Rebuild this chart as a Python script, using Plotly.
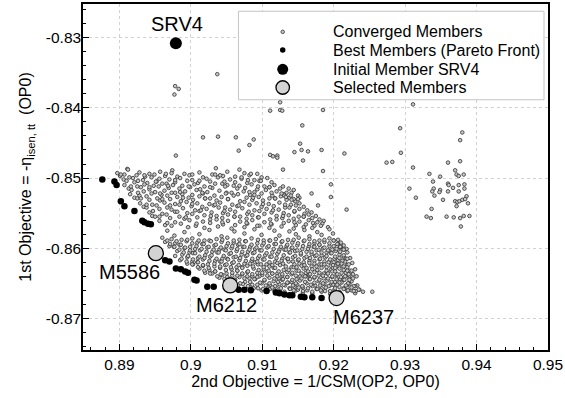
import plotly.graph_objects as go

FONT = "Liberation Sans, Arial, Helvetica, sans-serif"

# ---------------- data ----------------
converged_pts = [
    # upper band
    (0.8911,-0.8487),(0.8974,-0.8489),(0.9035,-0.8486),(0.9068,-0.8488),
    (0.8897,-0.8493),(0.8907,-0.8495),(0.8928,-0.8492),(0.8942,-0.8494),(0.8957,-0.8491),(0.8973,-0.8493),(0.8991,-0.8494),(0.9012,-0.8492),(0.9030,-0.8495),(0.9051,-0.8491),(0.9075,-0.8493),(0.9093,-0.8494),
    (0.8901,-0.8497),(0.8914,-0.8499),(0.8924,-0.8496),(0.8936,-0.8498),(0.8949,-0.8495),(0.8964,-0.8497),(0.8981,-0.8498),(0.8998,-0.8496),(0.9017,-0.8499),(0.9034,-0.8495),(0.9045,-0.8497),(0.9062,-0.8498),(0.9082,-0.8496),(0.9099,-0.8499),
    (0.8906,-0.8502),(0.8919,-0.8500),(0.8933,-0.8503),(0.8945,-0.8499),(0.8956,-0.8501),(0.8970,-0.8502),(0.8985,-0.8500),(0.9002,-0.8503),(0.9022,-0.8501),(0.9038,-0.8499),(0.9055,-0.8502),(0.9071,-0.8501),(0.9089,-0.8503),(0.9107,-0.8500),
    (0.8910,-0.8504),(0.8921,-0.8506),(0.8939,-0.8507),(0.8952,-0.8505),(0.8966,-0.8508),(0.8978,-0.8506),(0.8995,-0.8504),(0.9010,-0.8507),(0.9027,-0.8505),(0.9044,-0.8508),(0.9062,-0.8506),(0.9079,-0.8507),(0.9096,-0.8504),(0.9113,-0.8506),
    (0.8907,-0.8510),(0.8925,-0.8512),(0.8935,-0.8509),(0.8948,-0.8511),(0.8960,-0.8508),(0.8975,-0.8510),(0.8988,-0.8511),(0.9005,-0.8509),(0.9019,-0.8512),(0.9034,-0.8508),(0.9051,-0.8510),(0.9068,-0.8511),(0.9085,-0.8509),(0.9103,-0.8512),(0.9117,-0.8510),
    (0.8913,-0.8515),(0.8930,-0.8513),(0.8942,-0.8516),(0.8955,-0.8512),(0.8969,-0.8514),(0.8984,-0.8515),(0.8999,-0.8513),(0.9013,-0.8516),(0.9030,-0.8514),(0.9048,-0.8512),(0.9065,-0.8515),(0.9076,-0.8514),(0.9093,-0.8516),(0.9110,-0.8513),(0.9125,-0.8515),
    (0.8917,-0.8517),(0.8934,-0.8519),(0.8950,-0.8520),(0.8963,-0.8518),(0.8978,-0.8521),(0.8992,-0.8519),(0.9008,-0.8517),(0.9023,-0.8520),(0.9040,-0.8518),(0.9057,-0.8521),(0.9074,-0.8519),(0.9089,-0.8520),(0.9105,-0.8517),(0.9120,-0.8519),(0.9134,-0.8521),
    (0.8915,-0.8523),(0.8928,-0.8525),(0.8945,-0.8522),(0.8959,-0.8524),(0.8973,-0.8521),(0.8988,-0.8523),(0.9002,-0.8524),(0.9017,-0.8522),(0.9033,-0.8525),(0.9050,-0.8521),(0.9066,-0.8523),(0.9083,-0.8524),(0.9099,-0.8522),(0.9114,-0.8525),(0.9130,-0.8523),(0.9141,-0.8521),
    (0.8921,-0.8528),(0.8938,-0.8526),(0.8953,-0.8529),(0.8967,-0.8525),(0.8981,-0.8527),(0.8997,-0.8528),(0.9012,-0.8526),(0.9027,-0.8529),(0.9043,-0.8527),(0.9060,-0.8525),(0.9078,-0.8528),(0.9095,-0.8527),(0.9110,-0.8529),(0.9126,-0.8526),(0.9138,-0.8528),(0.9150,-0.8525),
    (0.8925,-0.8529),(0.8942,-0.8531),(0.8957,-0.8532),(0.8971,-0.8530),(0.8986,-0.8533),(0.9003,-0.8531),(0.9020,-0.8529),(0.9036,-0.8532),(0.9052,-0.8530),(0.9069,-0.8533),(0.9086,-0.8531),(0.9101,-0.8532),(0.9118,-0.8529),(0.9134,-0.8531),(0.9146,-0.8533),
    (0.8929,-0.8536),(0.8946,-0.8538),(0.8963,-0.8535),(0.8978,-0.8537),(0.8994,-0.8534),(0.9009,-0.8536),(0.9026,-0.8537),(0.9041,-0.8535),(0.9058,-0.8538),(0.9075,-0.8534),(0.9092,-0.8536),(0.9109,-0.8537),(0.9124,-0.8535),(0.9140,-0.8538),(0.9152,-0.8536),
    (0.8934,-0.8541),(0.8952,-0.8539),(0.8967,-0.8542),(0.8984,-0.8538),(0.9001,-0.8540),(0.9016,-0.8541),(0.9032,-0.8539),(0.9048,-0.8542),(0.9065,-0.8540),(0.9082,-0.8538),(0.9099,-0.8541),(0.9116,-0.8540),(0.9132,-0.8542),(0.9147,-0.8539),(0.9158,-0.8541),
    (0.8938,-0.8542),(0.8956,-0.8544),(0.8973,-0.8545),(0.8989,-0.8543),(0.9006,-0.8546),(0.9022,-0.8544),(0.9039,-0.8542),(0.9055,-0.8545),(0.9072,-0.8543),(0.9089,-0.8546),(0.9106,-0.8544),(0.9123,-0.8545),(0.9138,-0.8542),(0.9152,-0.8544),(0.9163,-0.8546),
    (0.8942,-0.8549),(0.8960,-0.8551),(0.8978,-0.8548),(0.8995,-0.8550),(0.9012,-0.8547),(0.9029,-0.8549),(0.9045,-0.8550),(0.9062,-0.8548),(0.9079,-0.8551),(0.9096,-0.8547),(0.9113,-0.8549),(0.9130,-0.8550),(0.9145,-0.8548),(0.9159,-0.8551),(0.9169,-0.8549),
    (0.8946,-0.8554),(0.8966,-0.8552),(0.8984,-0.8555),(0.9002,-0.8551),(0.9019,-0.8553),(0.9036,-0.8554),(0.9052,-0.8552),(0.9069,-0.8555),(0.9086,-0.8553),(0.9103,-0.8551),(0.9120,-0.8554),(0.9137,-0.8553),(0.9151,-0.8555),(0.9165,-0.8552),(0.9175,-0.8554),
    (0.8950,-0.8555),(0.8971,-0.8557),(0.8991,-0.8558),(0.9009,-0.8556),(0.9027,-0.8559),(0.9044,-0.8557),(0.9061,-0.8555),(0.9078,-0.8558),(0.9094,-0.8556),(0.9111,-0.8559),(0.9128,-0.8557),(0.9144,-0.8558),(0.9158,-0.8555),(0.9170,-0.8557),(0.9180,-0.8559),
    (0.8956,-0.8561),(0.8978,-0.8563),(0.8998,-0.8560),(0.9017,-0.8562),(0.9036,-0.8559),(0.9052,-0.8561),(0.9069,-0.8562),(0.9086,-0.8560),(0.9103,-0.8563),(0.9120,-0.8559),(0.9137,-0.8561),(0.9152,-0.8562),(0.9165,-0.8560),(0.9177,-0.8563),(0.9186,-0.8561),
    (0.8964,-0.8567),(0.8986,-0.8565),(0.9007,-0.8568),(0.9027,-0.8564),(0.9045,-0.8566),(0.9062,-0.8567),(0.9079,-0.8565),(0.9096,-0.8568),(0.9113,-0.8566),(0.9130,-0.8564),(0.9147,-0.8567),(0.9161,-0.8566),(0.9173,-0.8568),(0.9184,-0.8565),
    (0.8973,-0.8568),(0.8996,-0.8570),(0.9019,-0.8571),(0.9038,-0.8569),(0.9057,-0.8572),(0.9075,-0.8570),(0.9093,-0.8568),(0.9110,-0.8571),(0.9127,-0.8569),(0.9144,-0.8572),(0.9158,-0.8570),(0.9170,-0.8571),(0.9182,-0.8568),(0.9192,-0.8570),
    # upper band, in-between members
    (0.8902,-0.8495),(0.8935,-0.8496),(0.8965,-0.8494),(0.9002,-0.8495),(0.9041,-0.8496),(0.9084,-0.8494),
    (0.8926,-0.8504),(0.8951,-0.8505),(0.8978,-0.8503),(0.9012,-0.8504),(0.9047,-0.8505),(0.9080,-0.8503),(0.9098,-0.8504),
    (0.8916,-0.8512),(0.8942,-0.8513),(0.8968,-0.8511),(0.8997,-0.8512),(0.9027,-0.8513),(0.9060,-0.8511),(0.9094,-0.8512),
    (0.8926,-0.8521),(0.8957,-0.8522),(0.8985,-0.8520),(0.9016,-0.8521),(0.9049,-0.8522),(0.9082,-0.8520),(0.9113,-0.8521),(0.9127,-0.8522),
    (0.8930,-0.8529),(0.8960,-0.8530),(0.8989,-0.8528),(0.9020,-0.8529),(0.9052,-0.8530),(0.9087,-0.8528),(0.9118,-0.8529),(0.9144,-0.8530),
    (0.8938,-0.8538),(0.8971,-0.8539),(0.9002,-0.8537),(0.9034,-0.8538),(0.9067,-0.8539),(0.9101,-0.8537),(0.9132,-0.8538),
    (0.8947,-0.8547),(0.8981,-0.8548),(0.9014,-0.8546),(0.9047,-0.8547),(0.9081,-0.8548),(0.9115,-0.8546),(0.9145,-0.8547),
    (0.8956,-0.8555),(0.8993,-0.8556),(0.9028,-0.8554),(0.9061,-0.8555),(0.9095,-0.8556),(0.9129,-0.8554),(0.9158,-0.8555),
    (0.8967,-0.8564),(0.9008,-0.8565),(0.9044,-0.8563),(0.9078,-0.8564),(0.9112,-0.8565),(0.9145,-0.8563),(0.9171,-0.8564),
    # sparse strip
    (0.8967,-0.8575),(0.8991,-0.8577),(0.9026,-0.8574),(0.9061,-0.8576),(0.9089,-0.8573),(0.9117,-0.8575),(0.9138,-0.8576),(0.9159,-0.8574),(0.9177,-0.8577),(0.9194,-0.8573),
    (0.8977,-0.8582),(0.9012,-0.8580),(0.9043,-0.8583),(0.9075,-0.8579),(0.9099,-0.8581),(0.9124,-0.8582),(0.9147,-0.8580),(0.9166,-0.8583),(0.9183,-0.8581),(0.9199,-0.8579),
    # lower band
    (0.8960,-0.8585),(0.8973,-0.8587),(0.8987,-0.8588),(0.9002,-0.8586),(0.9019,-0.8589),(0.9036,-0.8587),(0.9051,-0.8585),(0.9068,-0.8588),(0.9085,-0.8586),(0.9102,-0.8589),(0.9119,-0.8587),(0.9136,-0.8588),(0.9151,-0.8585),(0.9166,-0.8587),(0.9180,-0.8589),(0.9194,-0.8586),(0.9206,-0.8588),
    (0.8964,-0.8591),(0.8978,-0.8593),(0.8994,-0.8590),(0.9009,-0.8592),(0.9026,-0.8589),(0.9043,-0.8591),(0.9060,-0.8592),(0.9076,-0.8590),(0.9093,-0.8593),(0.9110,-0.8589),(0.9127,-0.8591),(0.9142,-0.8592),(0.9158,-0.8590),(0.9173,-0.8593),(0.9187,-0.8591),(0.9200,-0.8589),(0.9210,-0.8592),
    (0.8970,-0.8597),(0.8984,-0.8595),(0.8999,-0.8598),(0.9016,-0.8594),(0.9033,-0.8596),(0.9050,-0.8597),(0.9066,-0.8595),(0.9083,-0.8598),(0.9100,-0.8596),(0.9117,-0.8594),(0.9134,-0.8597),(0.9149,-0.8596),(0.9165,-0.8598),(0.9180,-0.8595),(0.9194,-0.8597),(0.9206,-0.8594),(0.9214,-0.8596),
    (0.8976,-0.8598),(0.8991,-0.8600),(0.9006,-0.8601),(0.9023,-0.8599),(0.9040,-0.8602),(0.9057,-0.8600),(0.9073,-0.8598),(0.9090,-0.8601),(0.9107,-0.8599),(0.9124,-0.8602),(0.9141,-0.8600),(0.9156,-0.8601),(0.9172,-0.8598),(0.9185,-0.8600),(0.9198,-0.8602),(0.9209,-0.8599),(0.9218,-0.8601),
    (0.8981,-0.8604),(0.8998,-0.8606),(0.9013,-0.8603),(0.9030,-0.8605),(0.9047,-0.8602),(0.9064,-0.8604),(0.9080,-0.8605),(0.9097,-0.8603),(0.9114,-0.8606),(0.9131,-0.8602),(0.9146,-0.8604),(0.9162,-0.8605),(0.9176,-0.8603),(0.9190,-0.8606),(0.9203,-0.8604),(0.9214,-0.8602),
    (0.8988,-0.8609),(0.9003,-0.8607),(0.9020,-0.8610),(0.9037,-0.8606),(0.9054,-0.8608),(0.9071,-0.8609),(0.9087,-0.8607),(0.9104,-0.8610),(0.9121,-0.8608),(0.9138,-0.8606),(0.9154,-0.8609),(0.9169,-0.8608),(0.9183,-0.8610),(0.9196,-0.8607),(0.9208,-0.8609),(0.9219,-0.8606),
    (0.8978,-0.8611),(0.8995,-0.8613),(0.9010,-0.8614),(0.9027,-0.8612),(0.9044,-0.8615),(0.9060,-0.8613),(0.9077,-0.8611),(0.9094,-0.8614),(0.9111,-0.8612),(0.9128,-0.8615),(0.9143,-0.8613),(0.9159,-0.8614),(0.9174,-0.8611),(0.9188,-0.8613),(0.9201,-0.8615),(0.9214,-0.8612),(0.9223,-0.8614),
    (0.8985,-0.8617),(0.9002,-0.8619),(0.9017,-0.8616),(0.9034,-0.8618),(0.9051,-0.8615),(0.9068,-0.8617),(0.9085,-0.8618),(0.9101,-0.8616),(0.9118,-0.8619),(0.9135,-0.8615),(0.9150,-0.8617),(0.9166,-0.8618),(0.9180,-0.8616),(0.9194,-0.8619),(0.9206,-0.8617),(0.9217,-0.8615),
    (0.8995,-0.8622),(0.9009,-0.8620),(0.9024,-0.8623),(0.9041,-0.8619),(0.9058,-0.8621),(0.9075,-0.8622),(0.9090,-0.8620),(0.9106,-0.8623),(0.9121,-0.8621),(0.9137,-0.8619),(0.9152,-0.8622),(0.9166,-0.8621),(0.9180,-0.8623),(0.9193,-0.8620),(0.9205,-0.8622),(0.9216,-0.8619),(0.9226,-0.8621),
    (0.9003,-0.8623),(0.9017,-0.8625),(0.9033,-0.8626),(0.9048,-0.8624),(0.9064,-0.8627),(0.9079,-0.8625),(0.9094,-0.8623),(0.9110,-0.8626),(0.9125,-0.8624),(0.9141,-0.8627),(0.9155,-0.8625),(0.9169,-0.8626),(0.9183,-0.8623),(0.9196,-0.8625),(0.9208,-0.8627),(0.9219,-0.8624),
    (0.9012,-0.8629),(0.9026,-0.8631),(0.9041,-0.8628),(0.9057,-0.8630),(0.9072,-0.8627),(0.9088,-0.8629),(0.9102,-0.8630),(0.9116,-0.8628),(0.9130,-0.8631),(0.9144,-0.8627),(0.9158,-0.8629),(0.9170,-0.8630),(0.9183,-0.8628),(0.9196,-0.8631),(0.9208,-0.8629),(0.9219,-0.8627),(0.9230,-0.8630),
    (0.9020,-0.8635),(0.9034,-0.8633),(0.9050,-0.8636),(0.9065,-0.8632),(0.9079,-0.8634),(0.9093,-0.8635),(0.9107,-0.8633),(0.9121,-0.8636),(0.9135,-0.8634),(0.9148,-0.8632),(0.9161,-0.8635),(0.9173,-0.8634),(0.9186,-0.8636),(0.9198,-0.8633),(0.9211,-0.8635),(0.9222,-0.8632),
    (0.9030,-0.8636),(0.9044,-0.8638),(0.9058,-0.8639),(0.9072,-0.8637),(0.9086,-0.8640),(0.9100,-0.8638),(0.9114,-0.8636),(0.9128,-0.8639),(0.9141,-0.8637),(0.9153,-0.8640),(0.9166,-0.8638),(0.9179,-0.8639),(0.9191,-0.8636),(0.9204,-0.8638),(0.9216,-0.8640),(0.9227,-0.8637),
    (0.9040,-0.8642),(0.9054,-0.8644),(0.9068,-0.8641),(0.9082,-0.8643),(0.9096,-0.8640),(0.9110,-0.8642),(0.9123,-0.8643),(0.9135,-0.8641),(0.9148,-0.8644),(0.9161,-0.8640),(0.9173,-0.8642),(0.9186,-0.8643),(0.9198,-0.8641),(0.9209,-0.8644),(0.9221,-0.8642),(0.9232,-0.8640),
    (0.9048,-0.8647),(0.9062,-0.8645),(0.9076,-0.8648),(0.9090,-0.8644),(0.9103,-0.8646),(0.9116,-0.8647),(0.9128,-0.8645),(0.9141,-0.8648),(0.9153,-0.8646),(0.9166,-0.8644),(0.9179,-0.8647),(0.9191,-0.8646),(0.9202,-0.8648),(0.9214,-0.8645),(0.9225,-0.8647),
    (0.9059,-0.8649),(0.9073,-0.8651),(0.9086,-0.8652),(0.9099,-0.8650),(0.9111,-0.8653),(0.9124,-0.8651),(0.9136,-0.8649),(0.9149,-0.8652),(0.9162,-0.8650),(0.9174,-0.8653),(0.9187,-0.8651),(0.9199,-0.8652),(0.9211,-0.8649),(0.9222,-0.8651),(0.9233,-0.8653),
    (0.9082,-0.8655),(0.9094,-0.8657),(0.9107,-0.8654),(0.9120,-0.8656),(0.9132,-0.8653),(0.9145,-0.8655),(0.9157,-0.8656),(0.9170,-0.8654),(0.9183,-0.8657),(0.9195,-0.8653),(0.9208,-0.8655),(0.9219,-0.8656),(0.9230,-0.8654),
    (0.9099,-0.8660),(0.9111,-0.8658),(0.9124,-0.8661),(0.9138,-0.8657),(0.9150,-0.8659),(0.9163,-0.8660),(0.9176,-0.8658),(0.9188,-0.8661),(0.9201,-0.8659),(0.9214,-0.8657),(0.9225,-0.8660),(0.9236,-0.8659),
    (0.9146,-0.8661),(0.9157,-0.8663),(0.9170,-0.8664),(0.9183,-0.8662),(0.9195,-0.8665),(0.9208,-0.8663),(0.9219,-0.8661),(0.9230,-0.8664),(0.9241,-0.8662),
    # lower band, in-between members
    (0.8967,-0.8589),(0.8980,-0.8590),(0.8995,-0.8588),(0.9011,-0.8589),(0.9028,-0.8590),(0.9044,-0.8588),(0.9060,-0.8589),(0.9077,-0.8590),(0.9094,-0.8588),(0.9111,-0.8589),(0.9128,-0.8590),(0.9144,-0.8588),(0.9159,-0.8589),(0.9173,-0.8590),(0.9187,-0.8588),(0.9200,-0.8589),
    (0.8971,-0.8594),(0.8986,-0.8595),(0.9002,-0.8593),(0.9018,-0.8594),(0.9035,-0.8595),(0.9052,-0.8593),(0.9068,-0.8594),(0.9085,-0.8595),(0.9102,-0.8593),(0.9119,-0.8594),(0.9135,-0.8595),(0.9150,-0.8593),(0.9166,-0.8594),(0.9180,-0.8595),(0.9194,-0.8593),(0.9205,-0.8594),
    (0.8977,-0.8598),(0.8992,-0.8599),(0.9008,-0.8597),(0.9025,-0.8598),(0.9042,-0.8599),(0.9058,-0.8597),(0.9075,-0.8598),(0.9092,-0.8599),(0.9109,-0.8597),(0.9126,-0.8598),(0.9142,-0.8599),(0.9157,-0.8597),(0.9173,-0.8598),(0.9187,-0.8599),(0.9200,-0.8597),(0.9210,-0.8598),
    (0.8984,-0.8602),(0.8999,-0.8603),(0.9015,-0.8601),(0.9032,-0.8602),(0.9049,-0.8603),(0.9065,-0.8601),(0.9082,-0.8602),(0.9099,-0.8603),(0.9116,-0.8601),(0.9133,-0.8602),(0.9149,-0.8603),(0.9164,-0.8601),(0.9179,-0.8602),(0.9192,-0.8603),(0.9204,-0.8601),(0.9214,-0.8602),
    (0.8990,-0.8606),(0.9006,-0.8607),(0.9022,-0.8605),(0.9039,-0.8606),(0.9056,-0.8607),(0.9072,-0.8605),(0.9089,-0.8606),(0.9106,-0.8607),(0.9123,-0.8605),(0.9139,-0.8606),(0.9154,-0.8607),(0.9169,-0.8605),(0.9183,-0.8606),(0.9197,-0.8607),(0.9209,-0.8605),
    (0.8996,-0.8611),(0.9012,-0.8612),(0.9029,-0.8610),(0.9046,-0.8611),(0.9063,-0.8612),(0.9079,-0.8610),(0.9096,-0.8611),(0.9113,-0.8612),(0.9130,-0.8610),(0.9146,-0.8611),(0.9162,-0.8612),(0.9176,-0.8610),(0.9190,-0.8611),(0.9202,-0.8612),(0.9214,-0.8610),
    (0.8987,-0.8615),(0.9003,-0.8616),(0.9019,-0.8614),(0.9036,-0.8615),(0.9052,-0.8616),(0.9069,-0.8614),(0.9086,-0.8615),(0.9103,-0.8616),(0.9120,-0.8614),(0.9136,-0.8615),(0.9151,-0.8616),(0.9167,-0.8614),(0.9181,-0.8615),(0.9195,-0.8616),(0.9208,-0.8614),(0.9219,-0.8615),
    (0.8994,-0.8619),(0.9010,-0.8620),(0.9026,-0.8618),(0.9043,-0.8619),(0.9060,-0.8620),(0.9077,-0.8618),(0.9093,-0.8619),(0.9110,-0.8620),(0.9127,-0.8618),(0.9143,-0.8619),(0.9158,-0.8620),(0.9173,-0.8618),(0.9187,-0.8619),(0.9200,-0.8620),(0.9212,-0.8618),
    (0.9002,-0.8623),(0.9017,-0.8624),(0.9033,-0.8622),(0.9050,-0.8623),(0.9067,-0.8624),(0.9083,-0.8622),(0.9098,-0.8623),(0.9114,-0.8624),(0.9129,-0.8622),(0.9145,-0.8623),(0.9159,-0.8624),(0.9173,-0.8622),(0.9187,-0.8623),(0.9199,-0.8624),(0.9211,-0.8622),(0.9221,-0.8623),
    (0.9010,-0.8627),(0.9025,-0.8628),(0.9041,-0.8626),(0.9056,-0.8627),(0.9072,-0.8628),(0.9087,-0.8626),(0.9102,-0.8627),(0.9118,-0.8628),(0.9133,-0.8626),(0.9148,-0.8627),(0.9162,-0.8628),(0.9176,-0.8626),(0.9190,-0.8627),(0.9202,-0.8628),(0.9214,-0.8626),
    (0.9019,-0.8632),(0.9034,-0.8633),(0.9049,-0.8631),(0.9065,-0.8632),(0.9080,-0.8633),(0.9095,-0.8631),(0.9109,-0.8632),(0.9123,-0.8633),(0.9137,-0.8631),(0.9151,-0.8632),(0.9164,-0.8633),(0.9177,-0.8631),(0.9190,-0.8632),(0.9202,-0.8633),(0.9214,-0.8631),(0.9225,-0.8632),
    (0.9027,-0.8636),(0.9042,-0.8637),(0.9058,-0.8635),(0.9072,-0.8636),(0.9086,-0.8637),(0.9100,-0.8635),(0.9114,-0.8636),(0.9128,-0.8637),(0.9142,-0.8635),(0.9155,-0.8636),(0.9167,-0.8637),(0.9180,-0.8635),(0.9192,-0.8636),(0.9205,-0.8637),(0.9217,-0.8635),
    (0.9037,-0.8640),(0.9051,-0.8641),(0.9065,-0.8639),(0.9079,-0.8640),(0.9093,-0.8641),(0.9107,-0.8639),(0.9121,-0.8640),(0.9135,-0.8641),(0.9147,-0.8639),(0.9160,-0.8640),(0.9173,-0.8641),(0.9185,-0.8639),(0.9198,-0.8640),(0.9210,-0.8641),(0.9222,-0.8639),
    (0.9047,-0.8644),(0.9061,-0.8645),(0.9075,-0.8643),(0.9089,-0.8644),(0.9103,-0.8645),(0.9117,-0.8643),(0.9129,-0.8644),(0.9142,-0.8645),(0.9155,-0.8643),(0.9167,-0.8644),(0.9180,-0.8645),(0.9192,-0.8643),(0.9204,-0.8644),(0.9215,-0.8645),(0.9227,-0.8643),
    (0.9055,-0.8649),(0.9069,-0.8650),(0.9083,-0.8648),(0.9097,-0.8649),(0.9110,-0.8650),(0.9122,-0.8648),(0.9135,-0.8649),(0.9147,-0.8650),(0.9160,-0.8648),(0.9173,-0.8649),(0.9185,-0.8650),(0.9197,-0.8648),(0.9208,-0.8649),(0.9220,-0.8650),
    (0.9066,-0.8653),(0.9080,-0.8654),(0.9093,-0.8652),(0.9105,-0.8653),(0.9118,-0.8654),(0.9130,-0.8652),(0.9143,-0.8653),(0.9156,-0.8654),(0.9168,-0.8652),(0.9181,-0.8653),(0.9193,-0.8654),(0.9205,-0.8652),(0.9217,-0.8653),(0.9228,-0.8654),
    (0.9088,-0.8657),(0.9101,-0.8658),(0.9114,-0.8656),(0.9126,-0.8657),(0.9139,-0.8658),(0.9151,-0.8656),(0.9164,-0.8657),(0.9177,-0.8658),(0.9189,-0.8656),(0.9202,-0.8657),(0.9214,-0.8658),(0.9225,-0.8656),
    (0.9117,-0.8661),(0.9131,-0.8662),(0.9144,-0.8660),(0.9157,-0.8661),(0.9170,-0.8662),(0.9182,-0.8660),(0.9195,-0.8661),(0.9208,-0.8662),(0.9220,-0.8660),(0.9231,-0.8661),
    # scattered members
    (0.9037,-0.8352),(0.8978,-0.8369),(0.8983,-0.8373),(0.8977,-0.8381),
    (0.9125,-0.8392),(0.9111,-0.8404),(0.9125,-0.8403),(0.9128,-0.8404),(0.9185,-0.8403),
    (0.9017,-0.8442),(0.9038,-0.8441),(0.9063,-0.8442),(0.9088,-0.8445),(0.9082,-0.8453),(0.9067,-0.8461),
    (0.8979,-0.8468),(0.9111,-0.8467),(0.9115,-0.8469),(0.9121,-0.8468),(0.9121,-0.8471),(0.9145,-0.8463),
    (0.9156,-0.8425),(0.9153,-0.8451),(0.9164,-0.8462),(0.9183,-0.8460),(0.9155,-0.8460),(0.9215,-0.8465),
    (0.9157,-0.8475),(0.9129,-0.8488),(0.9185,-0.8490),(0.9071,-0.8499),(0.9196,-0.8509),(0.9110,-0.8513),
    (0.9129,-0.8512),(0.9137,-0.8515),(0.9144,-0.8517),(0.9169,-0.8522),(0.9196,-0.8527),(0.9218,-0.8545),
    (0.9178,-0.8539),(0.9131,-0.8525),(0.9133,-0.8527),(0.9140,-0.8525),(0.9141,-0.8531),(0.9152,-0.8528),
    (0.9150,-0.8530),(0.9089,-0.8524),(0.8912,-0.8488),
    (0.9209,-0.8598),(0.9219,-0.8632),(0.9221,-0.8637),(0.9222,-0.8645),(0.9228,-0.8661),(0.9235,-0.8659),
    (0.9254,-0.8662),(0.9206,-0.8622),
    # right-hand cluster
    (0.9311,-0.8395),(0.9293,-0.8429),(0.9380,-0.8435),(0.9377,-0.8446),(0.9294,-0.8464),(0.9274,-0.8478),
    (0.9282,-0.8477),(0.9360,-0.8478),(0.9377,-0.8476),(0.9311,-0.8485),(0.9370,-0.8489),(0.9334,-0.8494),
    (0.9372,-0.8495),(0.9375,-0.8497),(0.9382,-0.8495),(0.9349,-0.8498),(0.9339,-0.8505),(0.9360,-0.8508),
    (0.9361,-0.8510),(0.9375,-0.8510),(0.9383,-0.8509),(0.9306,-0.8515),(0.9340,-0.8515),(0.9349,-0.8517),
    (0.9367,-0.8514),(0.9383,-0.8515),(0.9338,-0.8519),(0.9348,-0.8520),(0.9360,-0.8519),(0.9375,-0.8519),
    (0.9341,-0.8525),(0.9386,-0.8526),(0.9315,-0.8528),(0.9353,-0.8531),(0.9370,-0.8533),(0.9373,-0.8534),
    (0.9376,-0.8533),(0.9380,-0.8531),(0.9384,-0.8530),(0.9388,-0.8536),(0.9372,-0.8540),(0.9337,-0.8544),
    (0.9330,-0.8555),(0.9336,-0.8557),(0.9358,-0.8555),(0.9368,-0.8556),(0.9377,-0.8557),(0.9382,-0.8554),
    (0.9390,-0.8554),(0.9378,-0.8569),
]
conv_x = [p[0] for p in converged_pts]
conv_y = [p[1] for p in converged_pts]

pareto_x = [0.8876, 0.8893, 0.8896, 0.8902, 0.8907, 0.8921, 0.8932, 0.8935, 0.8940, 0.8944,
            0.8964, 0.8970, 0.8979, 0.8986, 0.8992, 0.8996, 0.9005, 0.9008, 0.9023, 0.9032,
            0.9067, 0.9075, 0.9084, 0.9106, 0.9119, 0.9124, 0.9131, 0.9138, 0.9142, 0.9154,
            0.9159, 0.9170, 0.9183]
pareto_y = [-0.8502, -0.8505, -0.8510, -0.8533, -0.8540, -0.8547, -0.8561, -0.8563, -0.8565, -0.8566,
            -0.8617, -0.8619, -0.8629, -0.8630, -0.8633, -0.8635, -0.8645, -0.8646, -0.8655, -0.8655,
            -0.8659, -0.8659, -0.8660, -0.8661, -0.8663, -0.8664, -0.8666, -0.8667, -0.8667, -0.8669,
            -0.8670, -0.8670, -0.8671]

initial_name = "SRV4"
initial_x = [0.8979]
initial_y = [-0.8308]

selected_names = ["M5586", "M6212", "M6237"]
selected_x = [0.8951, 0.9055, 0.9204]
selected_y = [-0.8607, -0.8653, -0.8671]

legend_labels = ["Converged Members", "Best Members (Pareto Front)",
                 "Initial Member SRV4", "Selected Members"]

x_tickvals = [0.89, 0.90, 0.91, 0.92, 0.93, 0.94, 0.95]
x_ticktext = ["0.89", "0.9", "0.91", "0.92", "0.93", "0.94", "0.95"]
y_tickvals = [-0.87, -0.86, -0.85, -0.84, -0.83]
y_ticktext = ["-0.87", "-0.86", "-0.85", "-0.84", "-0.83"]

# ---------------- styles ----------------
conv_marker = dict(size=3.6, color="#c8c8c8", line=dict(color="#383838", width=0.85))
pareto_marker = dict(size=6.5, color="black", line=dict(width=0))
initial_marker = dict(size=12, color="black", line=dict(width=0))
selected_marker = dict(size=15, color="#d3d3d3", line=dict(color="black", width=1.3))

fig = go.Figure()
fig.add_trace(go.Scatter(x=conv_x, y=conv_y, mode="markers", marker=conv_marker,
                         name=legend_labels[0], showlegend=False))
fig.add_trace(go.Scatter(x=pareto_x, y=pareto_y, mode="markers", marker=pareto_marker,
                         name=legend_labels[1], showlegend=False))
fig.add_trace(go.Scatter(x=initial_x, y=initial_y, mode="markers", marker=initial_marker,
                         name=legend_labels[2], showlegend=False))
fig.add_trace(go.Scatter(x=selected_x, y=selected_y, mode="markers", marker=selected_marker,
                         name=legend_labels[3], showlegend=False))

# point labels
label_font = dict(family=FONT, size=20, color="black")
fig.add_annotation(x=initial_x[0], y=initial_y[0], text=initial_name, showarrow=False,
                   xshift=1, yshift=19, font=label_font)
label_shifts = [(-26, -19), (-4, -20), (27, -19)]
for name, sx, sy, (dx, dy) in zip(selected_names, selected_x, selected_y, label_shifts):
    fig.add_annotation(x=sx, y=sy, text=name, showarrow=False, xshift=dx, yshift=dy,
                       font=label_font)

# legend box (drawn manually to match the compact original spacing)
shapes = [dict(type="rect", xref="paper", yref="paper", x0=0.3343, x1=0.9914, y0=0.7233, y1=0.979,
               fillcolor="white", line=dict(color="#c4c4c4", width=1), layer="above")]
leg_y = [0.9195, 0.8669, 0.8112, 0.7586]
leg_markers = [conv_marker, pareto_marker, initial_marker, selected_marker]
leg_sizes = [3.5, 5.5, 11, 13.5]
for ly, mk, sz in zip(leg_y, leg_markers, leg_sizes):
    ln = mk.get("line", {})
    lw = ln.get("width", 0)
    shapes.append(dict(type="circle", xref="paper", yref="paper", xsizemode="pixel", ysizemode="pixel",
                       xanchor=0.4295, yanchor=ly, x0=-sz / 2, x1=sz / 2, y0=-sz / 2, y1=sz / 2,
                       fillcolor=mk["color"],
                       line=dict(color=ln.get("color", mk["color"]), width=lw), layer="above"))
for ly, txt in zip(leg_y, legend_labels):
    fig.add_annotation(xref="paper", yref="paper", x=0.534, y=ly, text=txt, showarrow=False,
                       xanchor="left", yanchor="middle", font=dict(family=FONT, size=16, color="black"))

axis_common = dict(
    ticks="inside", ticklen=6, tickwidth=1, tickcolor="black",
    showline=True, linecolor="black", linewidth=1.5, mirror=True,
    showgrid=True, gridcolor="#d2d2d2", griddash="dot", gridwidth=1,
    zeroline=False, tickfont=dict(family=FONT, size=15.5, color="black"),
)

fig.update_layout(
    width=565, height=398,
    margin=dict(l=83, r=16, t=2, b=48),
    paper_bgcolor="white", plot_bgcolor="white",
    font=dict(family=FONT, size=16, color="black"),
    shapes=shapes,
    showlegend=False,
    xaxis=dict(range=[0.8849, 0.95], tickmode="array", tickvals=x_tickvals, ticktext=x_ticktext,
               minor=dict(ticks="inside", ticklen=3, tick0=0.89, dtick=0.002, tickcolor="black", showgrid=False),
               title=dict(text="2nd Objective = 1/CSM(OP2, OP0)", font=dict(family=FONT, size=16), standoff=0),
               **axis_common),
    yaxis=dict(range=[-0.8745, -0.8252], tickmode="array", tickvals=y_tickvals, ticktext=y_ticktext,
               ticklabelstandoff=-3,
               minor=dict(ticks="inside", ticklen=3, tick0=-0.87, dtick=0.002, tickcolor="black", showgrid=False),
               title=dict(text="1st Objective = -η<sub>isen, tt</sub>  (OP0)", font=dict(family=FONT, size=16), standoff=10),
               **axis_common),
)

fig.write_html("out.html")
